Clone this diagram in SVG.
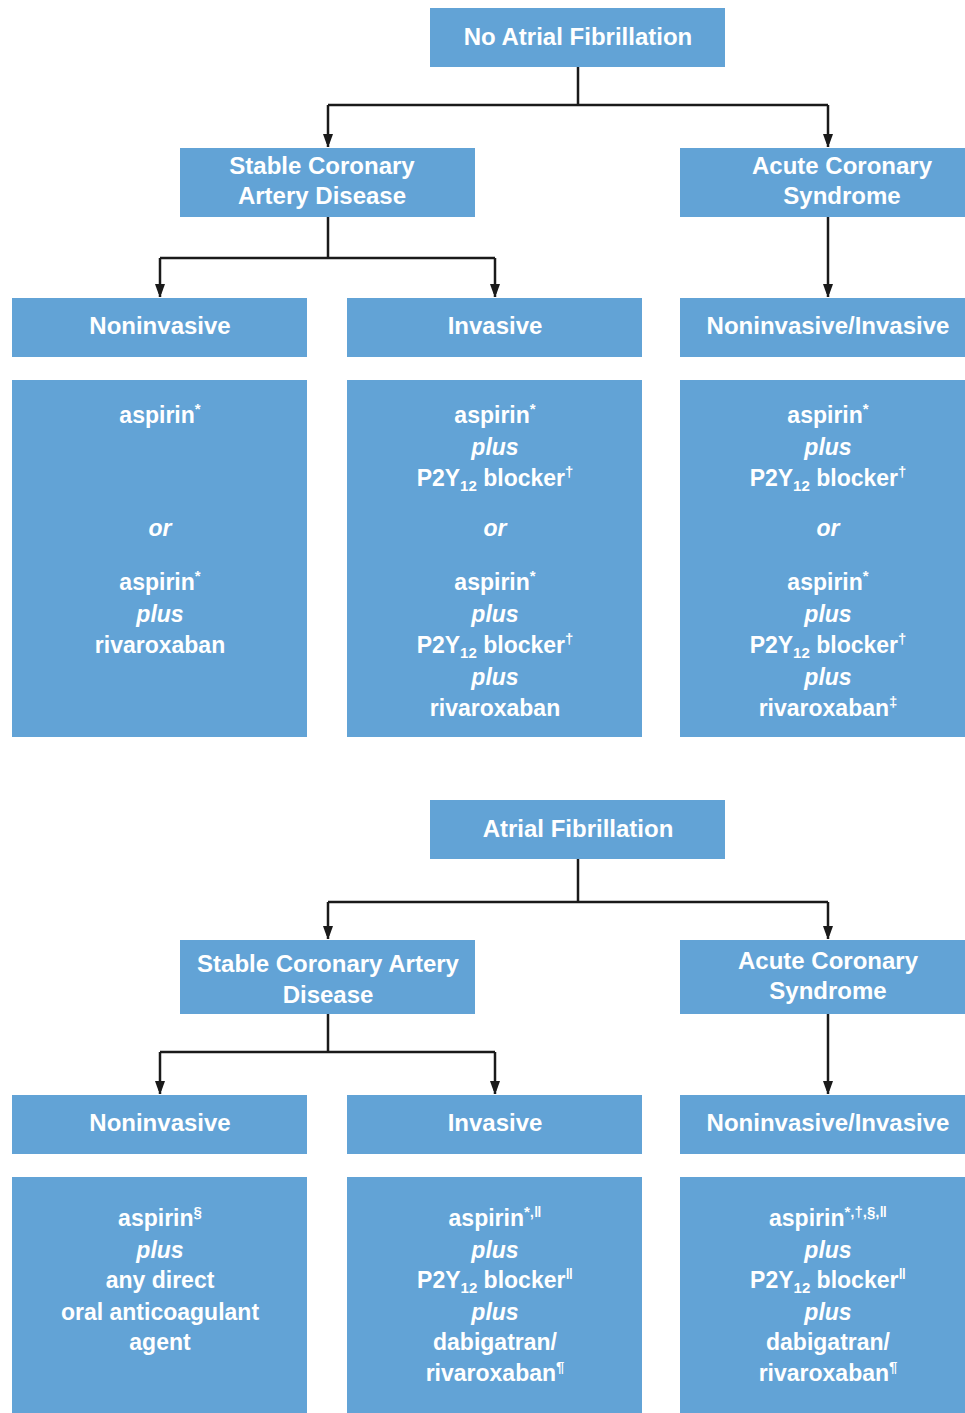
<svg xmlns="http://www.w3.org/2000/svg" width="965" height="1413" viewBox="0 0 965 1413">
<style>
.box{fill:#62a3d6}
.t{font-family:"Liberation Sans",Arial,sans-serif;font-weight:bold;font-size:24px;fill:#ffffff;text-anchor:middle}
.b{font-family:"Liberation Sans",Arial,sans-serif;font-weight:bold;font-size:23px;fill:#ffffff;text-anchor:middle}
.i{font-style:italic}
.c{fill:none;stroke:#1a1a1a;stroke-width:2.5}
.sup{font-size:15px}
.sub{font-size:15px}
</style>
<defs>
<marker id="arr" viewBox="0 0 10 14" markerWidth="10" markerHeight="14" refX="13" refY="5" orient="auto" markerUnits="userSpaceOnUse">
<path d="M0,0 L14,5 L0,10 Z" fill="#1a1a1a"/>
</marker>
</defs>
<rect width="965" height="1413" fill="#ffffff"/>

<g id="connectors">
<path class="c" d="M578,67 V105 M328,105 H828"/>
<path class="c" d="M328,105 V147" marker-end="url(#arr)"/>
<path class="c" d="M828,105 V147" marker-end="url(#arr)"/>
<path class="c" d="M328,217 V258 M160,258 H495"/>
<path class="c" d="M160,258 V297" marker-end="url(#arr)"/>
<path class="c" d="M495,258 V297" marker-end="url(#arr)"/>
<path class="c" d="M828,217 V297" marker-end="url(#arr)"/>
<path class="c" d="M578,859 V902 M328,902 H828"/>
<path class="c" d="M328,902 V939" marker-end="url(#arr)"/>
<path class="c" d="M828,902 V939" marker-end="url(#arr)"/>
<path class="c" d="M328,1014 V1052 M160,1052 H495"/>
<path class="c" d="M160,1052 V1094" marker-end="url(#arr)"/>
<path class="c" d="M495,1052 V1094" marker-end="url(#arr)"/>
<path class="c" d="M828,1014 V1094" marker-end="url(#arr)"/>
</g>

<g id="no-af">
<rect class="box" x="430" y="8" width="295" height="59"/>
<text class="t" x="578" y="45">No Atrial Fibrillation</text>
</g>
<g id="stable-cad-1">
<rect class="box" x="180" y="148" width="295" height="69"/>
<text class="t" x="322" y="174">Stable Coronary</text>
<text class="t" x="322" y="204">Artery Disease</text>
</g>
<g id="acs-1">
<rect class="box" x="680" y="148" width="285" height="69"/>
<text class="t" x="842" y="174">Acute Coronary</text>
<text class="t" x="842" y="204">Syndrome</text>
</g>
<g id="noninvasive-1">
<rect class="box" x="12" y="298" width="295" height="59"/>
<text class="t" x="160" y="334">Noninvasive</text>
</g>
<g id="invasive-1">
<rect class="box" x="347" y="298" width="295" height="59"/>
<text class="t" x="495" y="334">Invasive</text>
</g>
<g id="noninv-inv-1">
<rect class="box" x="680" y="298" width="285" height="59"/>
<text class="t" x="828" y="334">Noninvasive/Invasive</text>
</g>

<g id="therapy-noninvasive-1">
<rect class="box" x="12" y="380" width="295" height="357"/>
<text class="b" x="160" y="423">aspirin<tspan class="sup" dy="-9">*</tspan></text>
<text class="b i" x="160" y="536">or</text>
<text class="b" x="160" y="590">aspirin<tspan class="sup" dy="-9">*</tspan></text>
<text class="b i" x="160" y="622">plus</text>
<text class="b" x="160" y="653">rivaroxaban</text>
</g>
<g id="therapy-invasive-1">
<rect class="box" x="347" y="380" width="295" height="357"/>
<text class="b" x="495" y="423">aspirin<tspan class="sup" dy="-9">*</tspan></text>
<text class="b i" x="495" y="455">plus</text>
<text class="b" x="495" y="486">P2Y<tspan class="sub" dy="5">12</tspan><tspan dy="-5"> blocker</tspan><tspan class="sup" dy="-9">†</tspan></text>
<text class="b i" x="495" y="536">or</text>
<text class="b" x="495" y="590">aspirin<tspan class="sup" dy="-9">*</tspan></text>
<text class="b i" x="495" y="622">plus</text>
<text class="b" x="495" y="653">P2Y<tspan class="sub" dy="5">12</tspan><tspan dy="-5"> blocker</tspan><tspan class="sup" dy="-9">†</tspan></text>
<text class="b i" x="495" y="685">plus</text>
<text class="b" x="495" y="716">rivaroxaban</text>
</g>
<g id="therapy-noninv-inv-1">
<rect class="box" x="680" y="380" width="285" height="357"/>
<text class="b" x="828" y="423">aspirin<tspan class="sup" dy="-9">*</tspan></text>
<text class="b i" x="828" y="455">plus</text>
<text class="b" x="828" y="486">P2Y<tspan class="sub" dy="5">12</tspan><tspan dy="-5"> blocker</tspan><tspan class="sup" dy="-9">†</tspan></text>
<text class="b i" x="828" y="536">or</text>
<text class="b" x="828" y="590">aspirin<tspan class="sup" dy="-9">*</tspan></text>
<text class="b i" x="828" y="622">plus</text>
<text class="b" x="828" y="653">P2Y<tspan class="sub" dy="5">12</tspan><tspan dy="-5"> blocker</tspan><tspan class="sup" dy="-9">†</tspan></text>
<text class="b i" x="828" y="685">plus</text>
<text class="b" x="828" y="716">rivaroxaban<tspan class="sup" dy="-9">‡</tspan></text>
</g>

<g id="af">
<rect class="box" x="430" y="800" width="295" height="59"/>
<text class="t" x="578" y="837">Atrial Fibrillation</text>
</g>
<g id="stable-cad-2">
<rect class="box" x="180" y="940" width="295" height="74"/>
<text class="t" x="328" y="972">Stable Coronary Artery</text>
<text class="t" x="328" y="1003">Disease</text>
</g>
<g id="acs-2">
<rect class="box" x="680" y="940" width="285" height="74"/>
<text class="t" x="828" y="969">Acute Coronary</text>
<text class="t" x="828" y="999">Syndrome</text>
</g>
<g id="noninvasive-2">
<rect class="box" x="12" y="1095" width="295" height="59"/>
<text class="t" x="160" y="1131">Noninvasive</text>
</g>
<g id="invasive-2">
<rect class="box" x="347" y="1095" width="295" height="59"/>
<text class="t" x="495" y="1131">Invasive</text>
</g>
<g id="noninv-inv-2">
<rect class="box" x="680" y="1095" width="285" height="59"/>
<text class="t" x="828" y="1131">Noninvasive/Invasive</text>
</g>

<g id="therapy-noninvasive-2">
<rect class="box" x="12" y="1177" width="295" height="236"/>
<text class="b" x="160" y="1226">aspirin<tspan class="sup" dy="-9">§</tspan></text>
<text class="b i" x="160" y="1258">plus</text>
<text class="b" x="160" y="1288">any direct</text>
<text class="b" x="160" y="1320">oral anticoagulant</text>
<text class="b" x="160" y="1350">agent</text>
</g>
<g id="therapy-invasive-2">
<rect class="box" x="347" y="1177" width="295" height="236"/>
<text class="b" x="495" y="1226">aspirin<tspan class="sup" dy="-9">*,‖</tspan></text>
<text class="b i" x="495" y="1258">plus</text>
<text class="b" x="495" y="1288">P2Y<tspan class="sub" dy="5">12</tspan><tspan dy="-5"> blocker</tspan><tspan class="sup" dy="-9">‖</tspan></text>
<text class="b i" x="495" y="1320">plus</text>
<text class="b" x="495" y="1350">dabigatran/</text>
<text class="b" x="495" y="1381">rivaroxaban<tspan class="sup" dy="-9">¶</tspan></text>
</g>
<g id="therapy-noninv-inv-2">
<rect class="box" x="680" y="1177" width="285" height="236"/>
<text class="b" x="828" y="1226">aspirin<tspan class="sup" dy="-9">*,†,§,‖</tspan></text>
<text class="b i" x="828" y="1258">plus</text>
<text class="b" x="828" y="1288">P2Y<tspan class="sub" dy="5">12</tspan><tspan dy="-5"> blocker</tspan><tspan class="sup" dy="-9">‖</tspan></text>
<text class="b i" x="828" y="1320">plus</text>
<text class="b" x="828" y="1350">dabigatran/</text>
<text class="b" x="828" y="1381">rivaroxaban<tspan class="sup" dy="-9">¶</tspan></text>
</g>
</svg>
